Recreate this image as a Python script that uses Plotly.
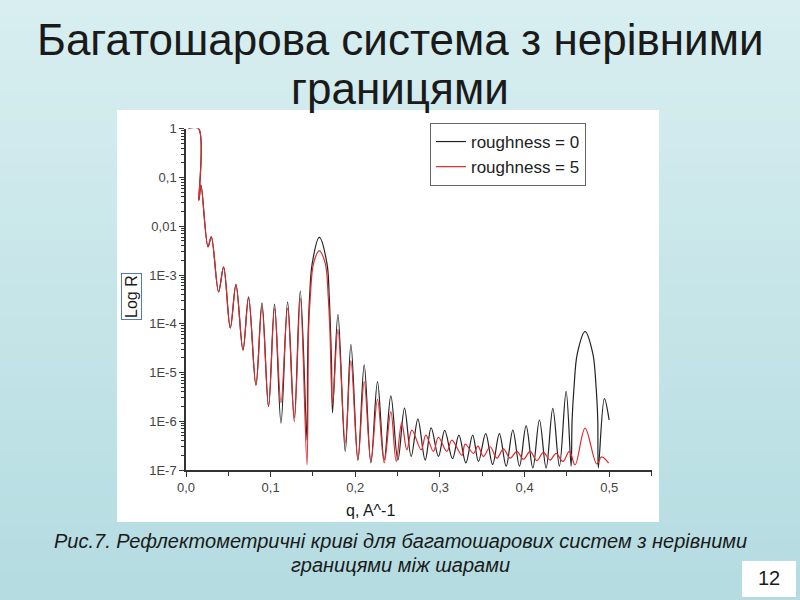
import plotly.graph_objects as go

# reflectivity curves (peaks, troughs, flanks of the big peaks)
q_rough0 = [0.003, 0.0149, 0.0153, 0.0177, 0.026, 0.0299, 0.0385, 0.0444, 0.0523, 0.059,
            0.0673, 0.0739, 0.0826, 0.0897, 0.0975, 0.1046, 0.1122, 0.12, 0.1279, 0.135,
            0.1429, 0.1436, 0.1444, 0.146, 0.1491, 0.1574, 0.1665, 0.1692, 0.1707, 0.1719,
            0.1731, 0.1795, 0.1881, 0.1948, 0.2031, 0.2105, 0.2184, 0.2262,
            0.2341, 0.242, 0.2503, 0.2581, 0.266, 0.2739, 0.2825, 0.2896, 0.2982, 0.3056,
            0.3148, 0.3224, 0.3306, 0.3386, 0.3455, 0.354, 0.3622, 0.3702, 0.3782, 0.3861,
            0.3939, 0.4018, 0.4097, 0.4175, 0.4254, 0.4333, 0.4411, 0.449, 0.4549,
            0.4561, 0.4584, 0.4623, 0.4714, 0.4805, 0.4844, 0.4864,
            0.4871, 0.4942, 0.4998]
r_rough0 = [1, 1, 0.0343, 0.0695, 0.00378, 0.00607, 4.5e-4, 1.47e-3, 8.2e-5, 6.4e-4,
            2.9e-5, 3.57e-4, 5.5e-6, 2.69e-4, 2.0e-6, 2.53e-4, 9.1e-7, 2.82e-4, 1.17e-6, 4.68e-4,
            4.1e-7, 1.55e-5, 7.4e-5, 3.57e-4, 1.73e-3, 5.89e-3, 1.73e-3, 3.57e-4, 7.4e-5, 1.55e-5,
            1.5e-6, 1.56e-4, 2.4e-7, 3.8e-5, 1.6e-7, 1.43e-5, 1.4e-7, 6.5e-6,
            1.6e-7, 3.3e-6, 1.6e-7, 1.85e-6, 1.9e-7, 1.11e-6, 1.6e-7, 7.3e-7, 1.9e-7, 6.5e-7,
            1.7e-7, 5.2e-7, 1.4e-7, 5.2e-7, 1.5e-7, 5.6e-7, 1.3e-7, 5.6e-7, 1.2e-7, 6.6e-7,
            1.2e-7, 8.0e-7, 1.1e-7, 1.06e-6, 1.1e-7, 1.83e-6, 1.2e-7, 4.1e-6, 1.2e-7,
            1.06e-6, 5.1e-6, 2.47e-5, 6.9e-5, 2.47e-5, 5.1e-6, 1.06e-6,
            1.1e-7, 2.9e-6, 1.06e-6]

q_rough5 = [0.003, 0.0149, 0.0153, 0.0177, 0.026, 0.0299, 0.0385, 0.0444, 0.0523, 0.059,
            0.0673, 0.0739, 0.0826, 0.0897, 0.0975, 0.1046, 0.1122, 0.12, 0.1279, 0.135,
            0.1429, 0.1448, 0.1468, 0.1507, 0.1574, 0.1645, 0.168, 0.17,
            0.1731, 0.1795, 0.1881, 0.1948, 0.2031, 0.2105, 0.2184, 0.2262,
            0.2341, 0.242, 0.2483, 0.2548, 0.2609, 0.2668, 0.2778, 0.2833, 0.2923, 0.2982,
            0.3081, 0.314, 0.3259, 0.3298, 0.3396, 0.3449, 0.3514, 0.3593, 0.3672, 0.375,
            0.3829, 0.3908, 0.3986, 0.4065, 0.4144, 0.4222, 0.4301, 0.4372, 0.4451, 0.4529,
            0.4596, 0.4714, 0.4852, 0.4909, 0.4992]
r_rough5 = [1, 1, 0.0343, 0.0695, 0.00378, 0.00607, 4.5e-4, 1.45e-3, 8.2e-5, 6.2e-4,
            2.9e-5, 3.4e-4, 5.5e-6, 2.23e-4, 2.0e-6, 2.07e-4, 2.4e-6, 2.1e-4, 9.8e-7, 3.31e-4,
            1.27e-7, 7.4e-5, 3.57e-4, 1.73e-3, 3.13e-3, 1.73e-3, 3.57e-4, 7.4e-5,
            2.16e-6, 7.7e-5, 3.6e-7, 1.75e-5, 1.6e-7, 6.5e-6, 1.5e-7, 2.8e-6,
            1.4e-7, 1.57e-6, 1.5e-7, 9.4e-7, 2.6e-7, 6.6e-7, 2.6e-7, 5.2e-7, 2.4e-7, 4.7e-7,
            2.4e-7, 4.1e-7, 2.0e-7, 3.4e-7, 2.2e-7, 3.1e-7, 1.9e-7, 3.0e-7, 1.75e-7, 2.7e-7,
            1.75e-7, 2.4e-7, 1.66e-7, 2.4e-7, 1.56e-7, 2.3e-7, 1.6e-7, 2.2e-7, 1.5e-7, 2.4e-7,
            1.27e-7, 7.2e-7, 1.33e-7, 1.85e-7, 1.38e-7]

x_ticks = [0, 0.1, 0.2, 0.3, 0.4, 0.5]
x_labels = ["0,0", "0,1", "0,2", "0,3", "0,4", "0,5"]
y_ticks = [1, 0.1, 0.01, 1e-3, 1e-4, 1e-5, 1e-6, 1e-7]
y_labels = ["1", "0,1", "0,01", "1E-3", "1E-4", "1E-5", "1E-6", "1E-7"]

W, H = 800, 600
NARROW = "Liberation Sans Narrow, Arial Narrow, Liberation Sans, Arial"
SANS = "Liberation Sans, Arial, sans-serif"


def px(x):
    return x / W


def py(y):
    return 1 - y / H


fig = go.Figure()
fig.add_trace(go.Scatter(x=q_rough0, y=r_rough0, mode="lines", name="roughness = 0",
                         line=dict(color="#222222", width=1.2, shape="spline", smoothing=1.0)))
fig.add_trace(go.Scatter(x=q_rough5, y=r_rough5, mode="lines", name="roughness = 5",
                         line=dict(color="#dc2a2e", width=1.2, shape="spline", smoothing=1.0)))

# slide background: vertical teal gradient made of bands
shapes = []
n_bands = 40
top_c, bot_c = (216, 238, 240), (180, 220, 225)
for i in range(n_bands):
    t = i / (n_bands - 1)
    c = tuple(round(a + (b - a) * t) for a, b in zip(top_c, bot_c))
    shapes.append(dict(type="rect", xref="paper", yref="paper", layer="below",
                       x0=0, x1=1, y0=1 - (i + 1) / n_bands - 0.001, y1=1 - i / n_bands,
                       fillcolor="rgb(%d,%d,%d)" % c, line=dict(width=0)))
# white chart panel
shapes.append(dict(type="rect", xref="paper", yref="paper", layer="below",
                   x0=px(117), x1=px(659), y0=py(522), y1=py(110),
                   fillcolor="white", line=dict(width=0)))
# page number box
shapes.append(dict(type="rect", xref="paper", yref="paper", layer="below",
                   x0=px(742), x1=px(796), y0=py(597), y1=py(561),
                   fillcolor="white", line=dict(width=0)))


def note(text, x, y, size, family=NARROW, **kw):
    return dict(text=text, x=px(x), y=py(y), xref="paper", yref="paper", showarrow=False,
                xanchor="center", yanchor="middle",
                font=dict(family=family, size=size, color="#1a1a1a"), **kw)


annotations = [
    note("Багатошарова система з нерівними", 400, 40, 44),
    note("границями", 400, 88, 44),
    note("<i>Рис.7. Рефлектометричні криві для багатошарових систем з нерівними</i>", 400, 541, 20),
    note("<i>границями між шарами</i>", 400, 565, 20),
    note("12", 769, 578, 20),
    note("Log R", 131, 297, 16, family=SANS, textangle=-90,
         bordercolor="#4f79c9", borderwidth=1, borderpad=1),
    note("q, A^-1", 370, 510, 16, family=SANS),
]

minor_y = [k * 10 ** e for e in range(-7, 0) for k in range(2, 10)]

fig.update_layout(
    width=W, height=H,
    margin=dict(l=0, r=0, t=0, b=0),
    paper_bgcolor="rgb(198,229,232)",
    plot_bgcolor="white",
    shapes=shapes,
    annotations=annotations,
    showlegend=True,
    legend=dict(x=px(430), y=py(123), xanchor="left", yanchor="top",
                bgcolor="white", bordercolor="#666666", borderwidth=1,
                font=dict(family=SANS, size=17, color="#222222"),
                tracegroupgap=0, itemwidth=30),
    xaxis=dict(domain=[px(186), px(651.6)], range=[0, 0.55], automargin=False,
               tickmode="array", tickvals=x_ticks, ticktext=x_labels,
               ticks="outside", ticklen=5, tickcolor="#333333",
               showline=True, linecolor="#333333", linewidth=1.5,
               showgrid=False, zeroline=False,
               minor=dict(tickmode="linear", tick0=0, dtick=0.05, ticks="outside",
                          ticklen=4, tickcolor="#333333", showgrid=False),
               tickfont=dict(family=SANS, size=13, color="#444444")),
    yaxis=dict(type="log", domain=[py(470), py(128.5)], range=[-7, 0.005], automargin=False,
               tickmode="array", tickvals=y_ticks, ticktext=y_labels,
               ticks="outside", ticklen=5, tickcolor="#333333",
               showline=True, linecolor="#333333", linewidth=1.5,
               showgrid=False, zeroline=False,
               minor=dict(tickmode="array", tickvals=minor_y, ticks="outside",
                          ticklen=3, tickcolor="#333333", showgrid=False),
               tickfont=dict(family=SANS, size=13, color="#444444")),
)

fig.write_html(
    "out.html",
    config={"displayModeBar": False},
    post_script="document.body.style.margin='0';"
                "document.documentElement.style.overflow='hidden';"
                "document.body.style.overflow='hidden';",
)
